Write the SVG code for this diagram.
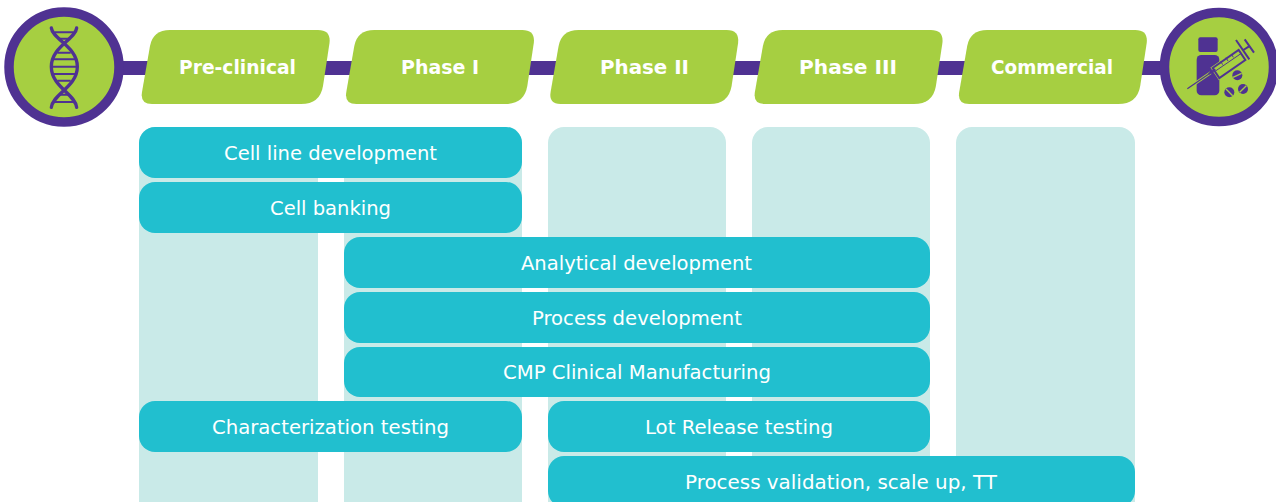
<svg xmlns="http://www.w3.org/2000/svg" width="1276" height="502" viewBox="0 0 1276 502">
<style>
.col{fill:#c9eae8}
.bar{fill:#21bfcf}
.ph{fill:#a6cf41}
.t{font-family:"DejaVu Sans","Liberation Sans",sans-serif;fill:#fff;text-anchor:middle}
.b{font-size:19px;font-weight:700}
.r{font-size:20px}
.hub{fill:#a6cf41;stroke:#4f3292;stroke-width:9.5}
.dna{fill:none;stroke:#4f3292;stroke-width:11;stroke-linecap:round}
.rung{stroke:#4f3292;stroke-width:6;fill:none}
.pill{fill:#4f3292}
.slash{stroke:#a6cf41;stroke-width:4}
</style>
<defs>
<path id="phase" d="M170 30H318Q331 30 329.500 43L323 86Q320 104 301 104H152Q140 104 142 92L150 46Q153 30 170 30Z"/>
</defs>
<g id="connectors"><rect x="115" y="61" width="1050" height="14" fill="#4f3292"/></g>
<g id="col-preclinical"><rect class="col" x="139" y="127" width="179" height="390" rx="16"/></g>
<g id="col-phase1"><rect class="col" x="344" y="127" width="178" height="390" rx="16"/></g>
<g id="col-phase2"><rect class="col" x="548" y="127" width="178" height="390" rx="16"/></g>
<g id="col-phase3"><rect class="col" x="752" y="127" width="178" height="390" rx="16"/></g>
<g id="col-commercial"><rect class="col" x="956" y="127" width="179" height="390" rx="16"/></g>
<g id="node-dna">
<circle class="hub" cx="64" cy="67" r="55"/>
<g transform="scale(0.33333)">
<path class="dna" style="stroke-width:10" d="M154 84C158 118 232 140 232 200C232 260 158 282 154 322"/>
<path class="dna" style="stroke-width:10" d="M230 84C226 118 154 140 154 200C154 260 226 282 230 322"/>
<path class="rung" d="M164 97H220M178 116H206M172 158H212M156 178H228M154 200H230M156 222H228M172 242H212M178 284H206M164 306H220"/>
</g>
</g>
<g id="node-drug">
<circle class="hub" cx="1219" cy="67" r="54.500"/>
<g transform="translate(1130 0) scale(0.33333)">
<rect x="205" y="112" width="58" height="44" rx="6" fill="#4f3292"/>
<rect x="200" y="165" width="68" height="121" rx="14" fill="#4f3292"/>
<path d="M172 266L242 218" stroke="#a6cf41" stroke-width="9" fill="none"/>
<path d="M172 266L242 218" stroke="#4f3292" stroke-width="3.500" fill="none"/>
<path d="M248 204L326 150L346 180L268 234Z" fill="#a6cf41" stroke="#a6cf41" stroke-width="10"/>
<path d="M248 204L326 150L346 180L268 234Z" fill="#a6cf41" stroke="#4f3292" stroke-width="6"/>
<path d="M258 212L334 160" stroke="#4f3292" stroke-width="3" fill="none"/>
<path d="M236 222L256 208M318 120L358 178M340 150L356 140M344 118L372 158" stroke="#4f3292" stroke-width="6" fill="none"/>
<path d="M272 184L278 194M288 173L294 183M304 162L310 172" stroke="#4f3292" stroke-width="3" fill="none"/>
<circle class="pill" cx="322" cy="226" r="15"/><path class="slash" d="M309 232L335 220"/>
<circle class="pill" cx="339" cy="267" r="15"/><path class="slash" d="M329 277L349 257"/>
<circle class="pill" cx="298" cy="277" r="15"/><path class="slash" d="M288 267L308 287"/>
</g>
</g>
<g id="phase-preclinical"><use class="ph" href="#phase"/><text class="t b" x="237.500" y="74" textLength="117" lengthAdjust="spacingAndGlyphs">Pre-clinical</text></g>
<g id="phase-1"><use class="ph" href="#phase" x="204.300"/><text class="t b" x="440" y="74" textLength="78" lengthAdjust="spacingAndGlyphs">Phase I</text></g>
<g id="phase-2"><use class="ph" href="#phase" x="408.600"/><text class="t b" x="644.500" y="74" textLength="89" lengthAdjust="spacingAndGlyphs">Phase II</text></g>
<g id="phase-3"><use class="ph" href="#phase" x="612.900"/><text class="t b" x="848" y="74" textLength="98" lengthAdjust="spacingAndGlyphs">Phase III</text></g>
<g id="phase-commercial"><use class="ph" href="#phase" x="817.200"/><text class="t b" x="1052" y="74" textLength="122" lengthAdjust="spacingAndGlyphs">Commercial</text></g>
<g id="bar-cell-line"><rect class="bar" x="139" y="127" width="383" height="51" rx="16"/><text class="t r" x="330.500" y="160" textLength="213" lengthAdjust="spacingAndGlyphs">Cell line development</text></g>
<g id="bar-cell-banking"><rect class="bar" x="139" y="182" width="383" height="51" rx="16"/><text class="t r" x="330.500" y="215" textLength="121" lengthAdjust="spacingAndGlyphs">Cell banking</text></g>
<g id="bar-analytical"><rect class="bar" x="344" y="237" width="586" height="51" rx="16"/><text class="t r" x="636.500" y="270" textLength="231" lengthAdjust="spacingAndGlyphs">Analytical development</text></g>
<g id="bar-process"><rect class="bar" x="344" y="292" width="586" height="51" rx="16"/><text class="t r" x="637" y="325" textLength="210" lengthAdjust="spacingAndGlyphs">Process development</text></g>
<g id="bar-cmp"><rect class="bar" x="344" y="347" width="586" height="50" rx="16"/><text class="t r" x="637" y="379" textLength="268" lengthAdjust="spacingAndGlyphs">CMP Clinical Manufacturing</text></g>
<g id="bar-characterization"><rect class="bar" x="139" y="401" width="383" height="51" rx="16"/><text class="t r" x="330.500" y="434" textLength="237" lengthAdjust="spacingAndGlyphs">Characterization testing</text></g>
<g id="bar-lot"><rect class="bar" x="548" y="401" width="382" height="51" rx="16"/><text class="t r" x="739" y="434" textLength="188" lengthAdjust="spacingAndGlyphs">Lot Release testing</text></g>
<g id="bar-validation"><rect class="bar" x="548" y="456" width="587" height="51" rx="16"/><text class="t r" x="841" y="489" textLength="312" lengthAdjust="spacingAndGlyphs">Process validation, scale up, TT</text></g>
</svg>
